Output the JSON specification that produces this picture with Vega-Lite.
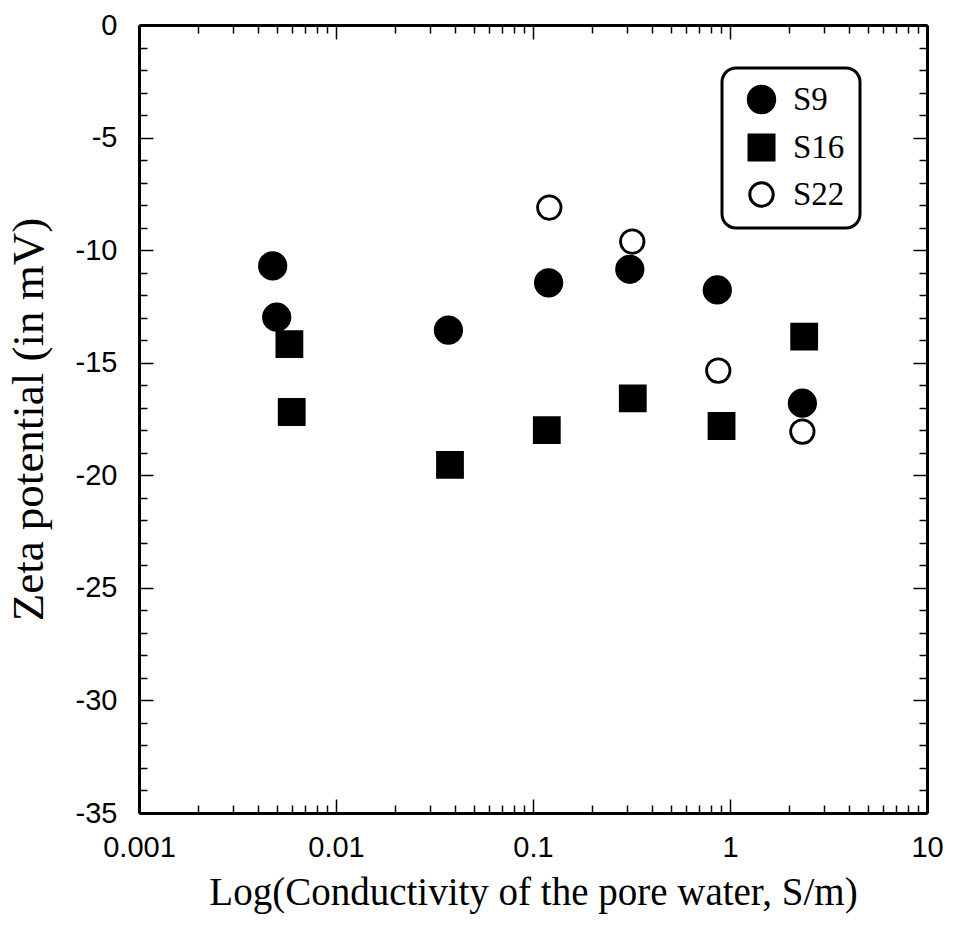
{
  "$schema": "https://vega.github.io/schema/vega-lite/v6.json",
  "width": 788,
  "height": 788,
  "autosize": {"type": "none"},
  "padding": {"left": 139, "top": 25, "right": 27, "bottom": 119},
  "background": "white",
  "config": {
    "view": {"stroke": null},
    "axis": {
      "grid": false,
      "domainColor": "black",
      "domainWidth": 3,
      "tickColor": "black",
      "tickWidth": 1.5,
      "labelColor": "black",
      "titleColor": "black",
      "labelFont": "Liberation Sans",
      "labelFontSize": 29,
      "titleFont": "Liberation Serif",
      "titleFontWeight": "normal",
      "labelOverlap": false,
      "labelFlush": false,
      "labelBound": false
    },
    "legend": {
      "orient": "none",
      "legendX": 583,
      "legendY": 43,
      "strokeColor": "black",
      "strokeWidth": 3,
      "cornerRadius": 14,
      "padding": 15,
      "fillColor": "white",
      "labelFont": "Liberation Serif",
      "labelFontSize": 33,
      "labelColor": "black",
      "rowPadding": 10,
      "labelOffset": 15,
      "symbolOffset": 8
    }
  },
  "data": {
    "values": [
      {"series": "S9", "k": 0.00477, "z": -10.70},
      {"series": "S9", "k": 0.0050, "z": -12.98},
      {"series": "S9", "k": 0.0372, "z": -13.55},
      {"series": "S9", "k": 0.120, "z": -11.45},
      {"series": "S9", "k": 0.310, "z": -10.85},
      {"series": "S9", "k": 0.862, "z": -11.77},
      {"series": "S9", "k": 2.33, "z": -16.80},
      {"series": "S16", "k": 0.0058, "z": -14.17},
      {"series": "S16", "k": 0.00596, "z": -17.19},
      {"series": "S16", "k": 0.0379, "z": -19.54},
      {"series": "S16", "k": 0.1175, "z": -17.99},
      {"series": "S16", "k": 0.321, "z": -16.58},
      {"series": "S16", "k": 0.906, "z": -17.81},
      {"series": "S16", "k": 2.38, "z": -13.84},
      {"series": "S22", "k": 0.121, "z": -8.11},
      {"series": "S22", "k": 0.319, "z": -9.62},
      {"series": "S22", "k": 0.872, "z": -15.35},
      {"series": "S22", "k": 2.33, "z": -18.06}
    ]
  },
  "layer": [
    {
      "mark": {"type": "point", "filled": true, "stroke": "black", "strokeWidth": 2.8, "opacity": 1},
      "encoding": {
        "x": {
          "field": "k",
          "type": "quantitative",
          "scale": {"type": "log", "domain": [0.001, 10], "nice": false},
          "axis": {
            "orient": "bottom",
            "title": "Log(Conductivity of the pore water, S/m)",
            "titleFontSize": 39,
            "titlePadding": 5,
            "values": [0.001,0.002,0.003,0.004,0.005,0.006,0.007,0.008,0.009,0.01,0.02,0.03,0.04,0.05,0.06,0.07,0.08,0.09,0.1,0.2,0.3,0.4,0.5,0.6,0.7,0.8,0.9,1,2,3,4,5,6,7,8,9,10],
            "tickSize": {"condition": {"test": "indexof([0.001,0.01,0.1,1,10], datum.value) >= 0", "value": -14}, "value": -8},
            "labelExpr": "indexof([0.001,0.01,0.1,1,10], datum.value) >= 0 ? toString(datum.value) : ''",
            "labelPadding": 34
          }
        },
        "y": {
          "field": "z",
          "type": "quantitative",
          "scale": {"domain": [-35, 0], "nice": false, "zero": false},
          "axis": {
            "orient": "left",
            "title": "Zeta potential (in mV)",
            "titleFontSize": 45,
            "titlePadding": 24,
            "values": [-35,-34,-33,-32,-31,-30,-29,-28,-27,-26,-25,-24,-23,-22,-21,-20,-19,-18,-17,-16,-15,-14,-13,-12,-11,-10,-9,-8,-7,-6,-5,-4,-3,-2,-1,0],
            "tickSize": {"condition": {"test": "datum.value % 5 == 0", "value": -14}, "value": -8},
            "labelExpr": "datum.value % 5 == 0 ? toString(datum.value) : ''",
            "labelPadding": 36
          }
        },
        "shape": {
          "field": "series", "type": "nominal", "title": null,
          "scale": {"domain": ["S9", "S16", "S22"], "range": ["circle", "square", "circle"]},
          "legend": {"symbolStrokeWidth": 3, "encode": {"symbols": {"update": {"stroke": {"value": "black"}, "strokeWidth": {"value": 3}}}}}
        },
        "fill": {"field": "series", "type": "nominal", "title": null, "scale": {"domain": ["S9", "S16", "S22"], "range": ["black", "black", "white"]}},
        "size": {"field": "series", "type": "nominal", "title": null, "scale": {"domain": ["S9", "S16", "S22"], "range": [700, 550, 600]}}
      }
    },
    {
      "mark": {"type": "point", "opacity": 0},
      "encoding": {
        "x": {
          "field": "k",
          "type": "quantitative",
          "scale": {"type": "log", "domain": [0.001, 10], "nice": false},
          "axis": {
            "orient": "top",
            "title": null,
            "labels": false,
            "values": [0.001,0.002,0.003,0.004,0.005,0.006,0.007,0.008,0.009,0.01,0.02,0.03,0.04,0.05,0.06,0.07,0.08,0.09,0.1,0.2,0.3,0.4,0.5,0.6,0.7,0.8,0.9,1,2,3,4,5,6,7,8,9,10],
            "tickSize": {"condition": {"test": "indexof([0.001,0.01,0.1,1,10], datum.value) >= 0", "value": -14}, "value": -8}
          }
        },
        "y": {
          "field": "z",
          "type": "quantitative",
          "scale": {"domain": [-35, 0], "nice": false, "zero": false},
          "axis": {
            "orient": "right",
            "title": null,
            "labels": false,
            "values": [-35,-34,-33,-32,-31,-30,-29,-28,-27,-26,-25,-24,-23,-22,-21,-20,-19,-18,-17,-16,-15,-14,-13,-12,-11,-10,-9,-8,-7,-6,-5,-4,-3,-2,-1,0],
            "tickSize": {"condition": {"test": "datum.value % 5 == 0", "value": -14}, "value": -8}
          }
        }
      }
    }
  ],
  "resolve": {"axis": {"x": "independent", "y": "independent"}}
}
